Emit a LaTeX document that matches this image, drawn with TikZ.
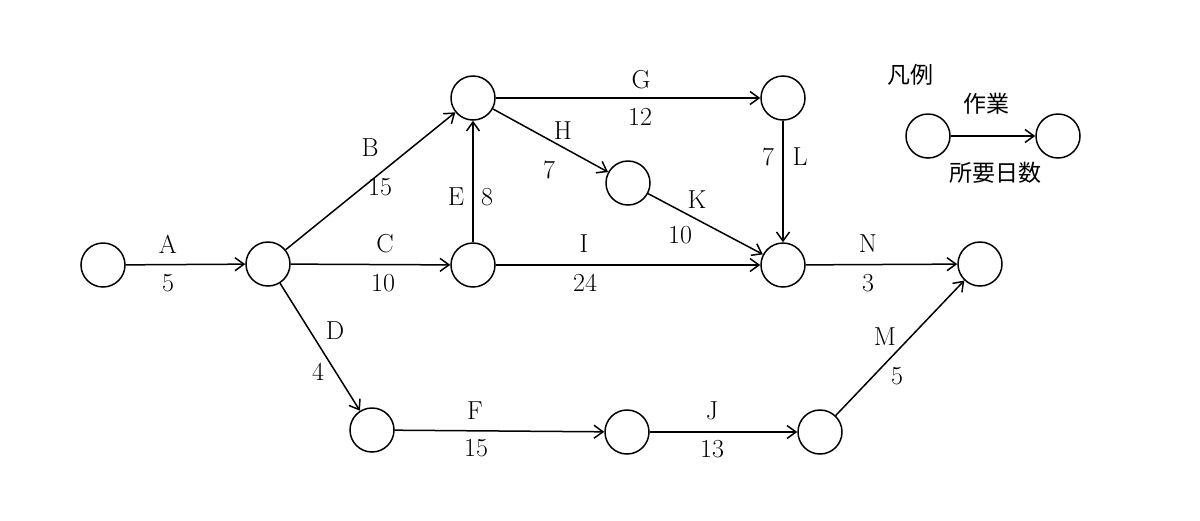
\documentclass[tikz,border=0pt]{standalone}
\usepackage{fontspec}
\newfontfamily\jpfont{Noto Sans CJK JP}
\usetikzlibrary{arrows.meta}
\begin{document}
\begin{tikzpicture}[x=1pt,y=-1pt,
  ev/.style={draw,circle,minimum size=44pt,inner sep=0pt,line width=1.5pt},
  act/.style={line width=1.5pt,-{Straight Barb[length=9pt,width=13pt,line width=1.5pt]}},
  lbl/.style={inner sep=0pt,font=\fontsize{26}{30}\selectfont},
  jp/.style={inner sep=0pt,font=\fontsize{23}{27}\selectfont\jpfont}]
\useasboundingbox (0,0) rectangle (1200,520);
\node[ev] (n1) at (103,265) {};
\node[ev] (n2) at (268,264) {};
\node[ev] (n3) at (473,98) {};
\node[ev] (n4) at (473,265) {};
\node[ev] (n5) at (783,98) {};
\node[ev] (n6) at (628,183) {};
\node[ev] (n7) at (783,265) {};
\node[ev] (n8) at (980,264) {};
\node[ev] (n9) at (372,430) {};
\node[ev] (n10) at (627,432) {};
\node[ev] (n11) at (820,432) {};
\node[ev] (l1) at (928,136) {};
\node[ev] (l2) at (1058,136) {};
\draw[act] (n1) -- (n2);
\draw[act] (n2) -- (n3);
\draw[act] (n2) -- (n4);
\draw[act] (n2) -- (n9);
\draw[act] (n4) -- (n3);
\draw[act] (n3) -- (n5);
\draw[act] (n3) -- (n6);
\draw[act] (n4) -- (n7);
\draw[act] (n6) -- (n7);
\draw[act] (n5) -- (n7);
\draw[act] (n7) -- (n8);
\draw[act] (n9) -- (n10);
\draw[act] (n10) -- (n11);
\draw[act] (n11) -- (n8);
\draw[act] (l1) -- (l2);
\node[lbl] (tA) at (168,244) {A};
\node[lbl] (dA) at (168,283) {5};
\node[lbl] (tB) at (370,148) {B};
\node[lbl] (dB) at (380,187) {15};
\node[lbl] (tC) at (385,244) {C};
\node[lbl] (dC) at (383,283) {10};
\node[lbl] (tE) at (456,197) {E};
\node[lbl] (dE) at (487,197) {8};
\node[lbl] (tH) at (563,131) {H};
\node[lbl] (dH) at (549,170) {7};
\node[lbl] (tG) at (641,80) {G};
\node[lbl] (dG) at (640,117) {12};
\node[lbl] (dL) at (768,157) {7};
\node[lbl] (tL) at (800,157) {L};
\node[lbl] (tK) at (697,200) {K};
\node[lbl] (dK) at (680,235) {10};
\node[lbl] (tI) at (584,244) {I};
\node[lbl] (dI) at (585,283) {24};
\node[lbl] (tN) at (868,244) {N};
\node[lbl] (dN) at (868,283) {3};
\node[lbl] (tD) at (335,331) {D};
\node[lbl] (dD) at (318,372) {4};
\node[lbl] (tF) at (475,411) {F};
\node[lbl] (dF) at (476,448) {15};
\node[lbl] (tJ) at (712,411) {J};
\node[lbl] (dJ) at (712,449) {13};
\node[lbl] (tM) at (885,337) {M};
\node[lbl] (dM) at (897,376) {5};
\node[jp] (leg) at (910,75) {凡例};
\node[jp] (work) at (986,104) {作業};
\node[jp] (days) at (995,173) {所要日数};
\end{tikzpicture}
\end{document}
